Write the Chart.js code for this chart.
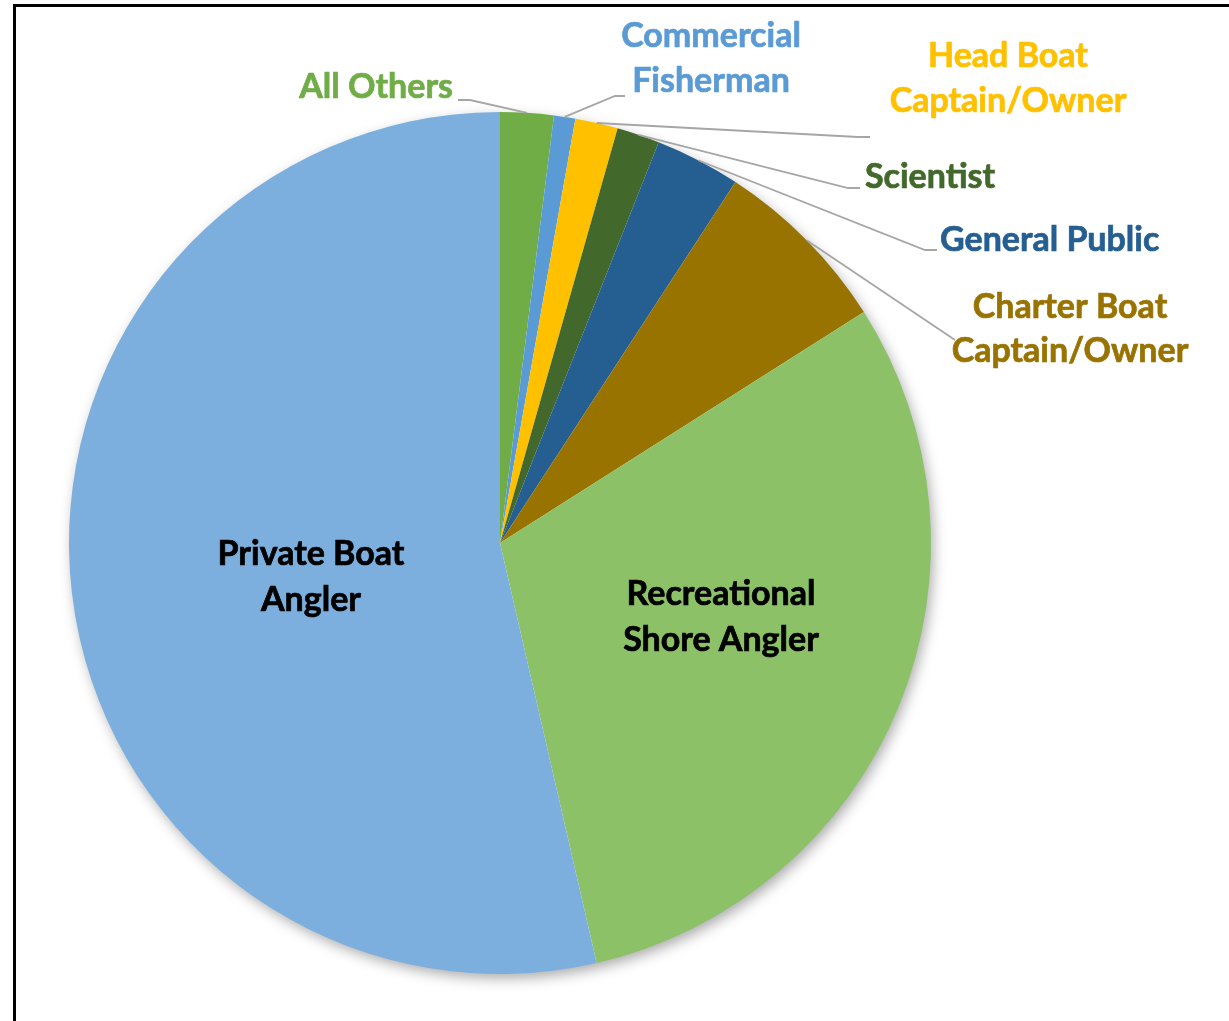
<!DOCTYPE html>
<html>
<head>
<meta charset="utf-8">
<script src="https://cdn.jsdelivr.net/npm/chart.js@4/dist/chart.umd.min.js"></script>
<style>
    html, body { margin: 0; padding: 0; background: #fff; overflow: hidden; }
    #wrap { position: relative; width: 1229px; height: 1021px; }
    #frame { position: absolute; left: 13px; top: 4px; width: 2000px; height: 2000px; border: 3px solid #000; }
    #chart { position: absolute; left: 0; top: 0; }
</style>
</head>
<body>
<div id="wrap">
    <div id="frame"></div>
    <canvas id="chart" width="1229" height="1021"></canvas>
</div>
<script>
// ---------- DATA ----------
const categories = ["All Others", "Commercial Fisherman", "Head Boat Captain/Owner", "Scientist",
    "General Public", "Charter Boat Captain/Owner", "Recreational Shore Angler", "Private Boat Angler"];
const shares = [2.0, 0.8, 1.6, 1.6, 3.2, 6.8, 30.4, 53.6];
const sliceColors = ['#70AD47', '#5B9BD5', '#FFC000', '#43682B', '#255E91', '#997300', '#8CC168', '#7CAFDD'];

// ---------- LABEL LAYOUT (text lines, placement, leader elbows) ----------
const labelLayout = [
    { lines: ["All Others"], color: '#70AD47', x: 453, y: [98], align: 'right', elbow: [470, 100], end: [458, 100] },
    { lines: ["Commercial", "Fisherman"], color: '#5B9BD5', x: 711, y: [47, 92], align: 'center', elbow: [615, 96], end: [625, 96] },
    { lines: ["Head Boat", "Captain/Owner"], color: '#FFC000', x: 1008, y: [67, 112], align: 'center', elbow: [858, 137], end: [870, 137] },
    { lines: ["Scientist"], color: '#43682B', x: 865, y: [188], align: 'left', elbow: [848, 188], end: [860, 188] },
    { lines: ["General Public"], color: '#255E91', x: 940, y: [251], align: 'left', elbow: [925, 250], end: [937, 250] },
    { lines: ["Charter Boat", "Captain/Owner"], color: '#997300', x: 1070, y: [318, 362], align: 'center', elbow: null, end: [955, 340] },
    { lines: ["Recreational", "Shore Angler"], color: '#000000', x: 721, y: [605, 651], align: 'center' },
    { lines: ["Private Boat", "Angler"], color: '#000000', x: 311, y: [565, 611], align: 'center' }
];

// shadow behind the whole pie
const pieShadow = {
    id: 'pieShadow',
    beforeDatasetsDraw(chart) {
        const arc = chart.getDatasetMeta(0).data[0];
        if (!arc) return;
        const p = arc.getProps(['x', 'y', 'outerRadius'], true);
        const ctx = chart.ctx;
        ctx.save();
        ctx.shadowColor = 'rgba(0,0,0,0.35)';
        ctx.shadowBlur = 14;
        ctx.shadowOffsetX = 3;
        ctx.shadowOffsetY = 5;
        ctx.fillStyle = '#fff';
        ctx.beginPath();
        ctx.arc(p.x, p.y, p.outerRadius - 1, 0, Math.PI * 2);
        ctx.fill();
        ctx.restore();
    }
};

// labels + leader lines
const sliceLabels = {
    id: 'sliceLabels',
    afterDatasetsDraw(chart) {
        const ctx = chart.ctx;
        const meta = chart.getDatasetMeta(0);
        meta.data.forEach(function (arc, i) {
            const lab = labelLayout[i];
            if (!lab) return;
            const p = arc.getProps(['x', 'y', 'startAngle', 'endAngle', 'outerRadius'], true);
            if (lab.end) {
                const mid = (p.startAngle + p.endAngle) / 2;
                ctx.save();
                ctx.strokeStyle = '#A6A6A6';
                ctx.lineWidth = 1.8;
                ctx.beginPath();
                ctx.moveTo(p.x + Math.cos(mid) * p.outerRadius, p.y + Math.sin(mid) * p.outerRadius);
                if (lab.elbow) ctx.lineTo(lab.elbow[0], lab.elbow[1]);
                ctx.lineTo(lab.end[0], lab.end[1]);
                ctx.stroke();
                ctx.restore();
            }
            ctx.save();
            ctx.font = 'bold 34px Lato';
            ctx.fillStyle = lab.color;
            ctx.strokeStyle = lab.color;
            ctx.lineWidth = 0.7;
            ctx.textAlign = lab.align;
            ctx.textBaseline = 'alphabetic';
            lab.lines.forEach(function (line, k) {
                ctx.fillText(line, lab.x, lab.y[k]);
                ctx.strokeText(line, lab.x, lab.y[k]);
            });
            ctx.restore();
        });
    }
};

new Chart(document.getElementById('chart'), {
    type: 'pie',
    data: {
        labels: categories,
        datasets: [{
            data: shares,
            backgroundColor: sliceColors,
            borderWidth: 0,
            hoverOffset: 0
        }]
    },
    options: {
        responsive: false,
        animation: false,
        layout: { padding: { left: 69, right: 298, top: 112, bottom: 47 } },
        plugins: {
            legend: { display: false },
            tooltip: { enabled: false }
        },
        events: []
    },
    plugins: [pieShadow, sliceLabels]
});
</script>
</body>
</html>
